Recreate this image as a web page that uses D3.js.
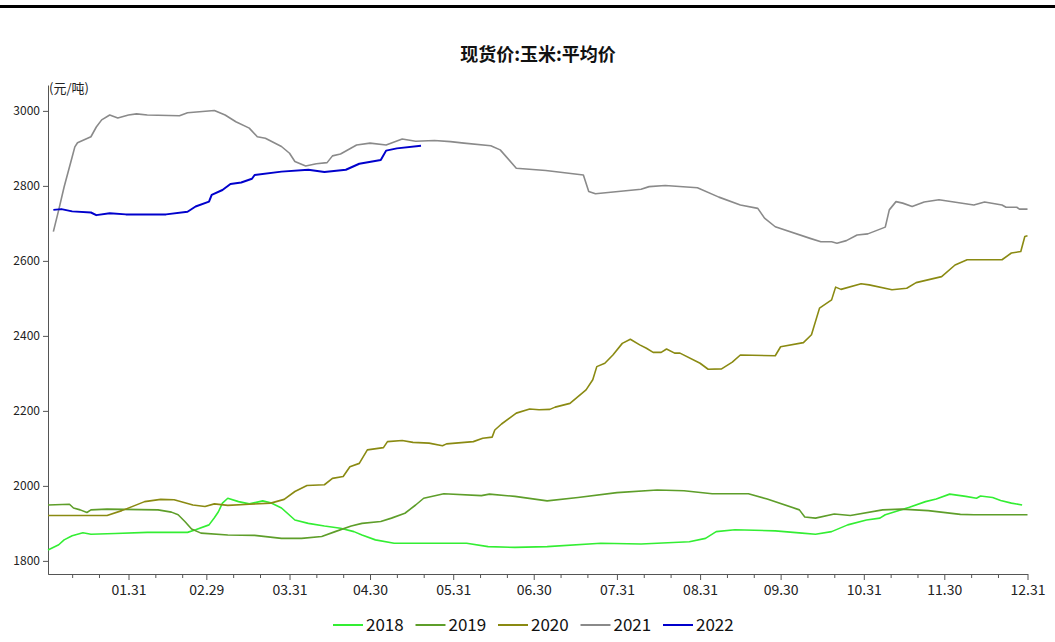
<!DOCTYPE html>
<html>
<head>
<meta charset="utf-8">
<script src="https://cdn.jsdelivr.net/npm/d3@7"></script>
<style>
  body { margin: 0; background: #fff; }
  svg { display: block; font-family: "Noto Sans CJK SC", "DejaVu Sans", sans-serif; }
</style>
</head>
<body>
<svg id="chart" width="1055" height="642"></svg>
<script>
// spot corn average price, day-of-year (leap calendar) vs 元/吨
var years = ["2018", "2019", "2020", "2021", "2022"];
var colors = ["#33ee33", "#5e9e2a", "#8a8a12", "#8a8a8a", "#0000cc"];

var monthEnds = [31, 60, 91, 121, 152, 182, 213, 244, 274, 305, 335, 366];
var monthLabels = ["01.31", "02.29", "03.31", "04.30", "05.31", "06.30", "07.31", "08.31", "09.30", "10.31", "11.30", "12.31"];
var yTicks = [1800, 2000, 2200, 2400, 2600, 2800, 3000];

var days2018 = [1,5,7,10,14,17,26,38,53,56,61,63,64.5,66,68,72,76,81,84,88,93,98,104,110,115,118,123,130,143,157,165,175,187,207,222,240,246,250,257,272,282,287,293,299,306,311,313,322,328,332,337,343,347,348.5,353,356,360,364];
var price2018 = [1829,1843,1856,1867,1875,1871,1873,1876,1876,1883,1896,1915,1931,1954,1967,1958,1952,1960,1955,1941,1909,1900,1893,1887,1878,1869,1856,1847,1847,1847,1838,1836,1838,1847,1845,1851,1860,1878,1883,1880,1874,1871,1878,1896,1909,1914,1923,1943,1958,1965,1978,1972,1967,1973,1969,1961,1954,1949];

var days2019 = [1,9,10.5,13,15.5,17,23,42,47,49.5,52,54.5,58,68,78,88,95.5,103,108,114,118,125,129,134,138,141,148.5,162.5,165.5,175,187,198.5,213,228,238,248.5,262,269,281,283,287,294,300,312,319,329,341,346,366];
var price2019 = [1949,1951,1941,1936,1929,1936,1938,1936,1930,1923,1905,1885,1874,1869,1868,1860,1860,1865,1878,1893,1900,1905,1914,1927,1949,1967,1979,1974,1978,1972,1960,1969,1982,1989,1987,1979,1979,1965,1936,1917,1914,1925,1921,1936,1938,1934,1924,1923,1923];

var days2020 = [1,23,28.5,37,43,48,55,59.5,63,68,76,84,89,93,97.5,104,107,111,113.5,117,120,126,127.5,133,137,143,148,149.5,159.5,163,166.5,167.5,170,175.5,180.5,184,188,190,195.5,201.5,204,205.5,208.5,211.5,215,218,221.5,224,226.5,229.5,231.5,234.5,236.5,244,247,252,256,259,272,274,282.5,285.5,288.5,293,294.5,296.5,304,307,315.5,321,324.5,334,339,343.5,356.5,360,363.5,365,366];
var price2020 = [1921,1921,1934,1958,1964,1963,1949,1945,1952,1948,1951,1954,1964,1985,2001,2003,2020,2025,2051,2060,2096,2102,2118,2121,2116,2114,2107,2112,2118,2127,2130,2149,2165,2194,2205,2203,2204,2210,2220,2256,2283,2318,2327,2349,2380,2391,2376,2367,2356,2356,2365,2354,2354,2327,2311,2312,2330,2349,2347,2371,2382,2403,2474,2496,2530,2524,2539,2536,2523,2527,2542,2558,2589,2603,2603,2621,2625,2665,2667];

var days2021 = [3,5,7,10,11,12,17,19,21,24,27,31,34,38,50,53,63,67,71,76,79,82,88,91,93,97,101,105,107,110,116,121,127,133,138,145,151,156,166,169.5,175.5,186.5,200.5,202.5,205,222,225,231,243,251,259,265.5,268,272,285,289,293,295,298.5,302.5,306.5,313,314.5,317,319.5,323,327.5,333,346,350,356.5,358,362,363,366];
var price2021 = [2678,2736,2797,2877,2904,2915,2931,2957,2976,2989,2981,2989,2992,2989,2987,2995,3001,2989,2971,2954,2931,2927,2905,2887,2865,2853,2859,2862,2880,2885,2909,2914,2909,2925,2919,2921,2918,2914,2907,2896,2847,2841,2829,2785,2779,2791,2798,2801,2795,2770,2749,2740,2714,2691,2660,2651,2651,2647,2654,2669,2672,2690,2736,2758,2754,2745,2757,2763,2749,2757,2749,2743,2743,2738,2738];

var days2022 = [3,6,10,17,19,24,30,45,53,56,61,62,66,69,73,77,78,88,98,104,112,117,125,127,131,140];
var price2022 = [2736,2738,2732,2729,2722,2727,2724,2724,2731,2745,2758,2776,2789,2805,2809,2819,2829,2838,2843,2837,2843,2859,2869,2894,2900,2907];

var allDays = [days2018, days2019, days2020, days2021, days2022];
var allPrices = [price2018, price2019, price2020, price2021, price2022];

var svg = d3.select("#chart"),
    W = +svg.attr("width"),
    margin = {top: 85, right: 27, bottom: 68, left: 48},
    width = W - margin.left - margin.right,
    height = +svg.attr("height") - margin.top - margin.bottom;

// black rule across the top
svg.append("rect").attr("x", 0).attr("y", 5).attr("width", W).attr("height", 3).attr("fill", "#000");

svg.append("text")
    .attr("x", 538).attr("y", 61)
    .attr("text-anchor", "middle")
    .attr("font-size", 18).attr("font-weight", "bold").attr("fill", "#111")
    .text("现货价:玉米:平均价");

var g = svg.append("g").attr("transform", "translate(" + margin.left + "," + margin.top + ")");

var x = d3.scaleLinear().domain([1, 366]).range([0, width - 0.5]);
var y = d3.scaleLinear().domain([1765, 3069]).range([height, 0]);

// minor ticks on the 10th and 20th of each month
var minorTicks = [];
monthEnds.forEach(function(e, i) {
  var start = i === 0 ? 0 : monthEnds[i - 1];
  minorTicks.push(start + 10, start + 20);
});

g.append("g")
    .attr("transform", "translate(0," + height + ")")
    .call(d3.axisBottom(x).tickValues(minorTicks).tickSize(4).tickSizeOuter(0).tickFormat(""))
    .call(function(a) { a.selectAll("path,line").attr("stroke", "#555"); });

g.append("g")
    .attr("transform", "translate(0," + height + ")")
    .call(d3.axisBottom(x).tickValues(monthEnds).tickSize(6).tickSizeOuter(0).tickPadding(5)
      .tickFormat(function(d, i) { return monthLabels[i]; }))
    .call(function(a) {
      a.selectAll("path,line").attr("stroke", "#555");
      a.selectAll("text").attr("font-size", 14).attr("fill", "#222")
        .attr("font-family", "'Noto Sans CJK SC', sans-serif");
    });

g.append("g")
    .call(d3.axisLeft(y).tickValues(yTicks).tickSize(5).tickSizeOuter(0).tickPadding(3)
      .tickFormat(d3.format("d")))
    .call(function(a) {
      a.selectAll("path,line").attr("stroke", "#555");
      a.selectAll("text").attr("font-size", 12).attr("fill", "#222")
        .attr("font-family", "'Noto Sans CJK SC', sans-serif");
    });

g.append("text")
    .attr("x", 1).attr("y", 8)
    .attr("font-size", 13).attr("fill", "#222")
    .text("(元/吨)");

var line = d3.line()
    .x(function(d) { return x(d[0]); })
    .y(function(d) { return y(d[1]); });

years.forEach(function(yr, i) {
  var pts = allDays[i].map(function(d, j) { return [d, allPrices[i][j]]; });
  g.append("path")
      .datum(pts)
      .attr("fill", "none")
      .attr("stroke", colors[i])
      .attr("stroke-width", i === 4 ? 2 : 1.6)
      .attr("stroke-linejoin", "round")
      .attr("d", line);
});

// legend
var legend = svg.append("g").attr("transform", "translate(333,625)");
years.forEach(function(yr, i) {
  var item = legend.append("g").attr("transform", "translate(" + (i * 82.5) + ",0)");
  item.append("line").attr("x1", 0).attr("x2", 30).attr("y1", 0).attr("y2", 0)
      .attr("stroke", colors[i]).attr("stroke-width", 2);
  item.append("text").attr("x", 33).attr("y", 6)
      .attr("font-size", 17).attr("fill", "#111").text(yr);
});
</script>
</body>
</html>
